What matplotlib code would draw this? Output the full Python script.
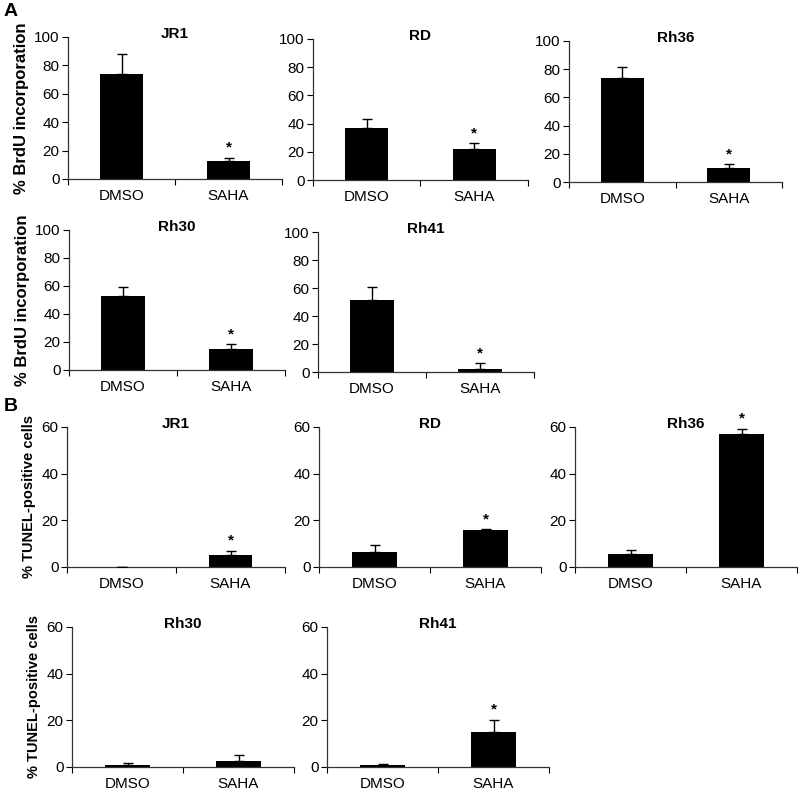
import matplotlib

matplotlib.use("Agg")
import matplotlib.pyplot as plt

plt.rcParams["font.family"] = ["Liberation Sans", "DejaVu Sans"]

# --- data ---------------------------------------------------------------------
groups = ["DMSO", "SAHA"]
cell_lines = ["JR1", "RD", "Rh36", "Rh30", "Rh41"]

brdu_dmso = [74, 37, 73.5, 52.5, 51.5]
brdu_dmso_err = [14, 6.5, 8, 6.5, 9.5]
brdu_saha = [12.5, 22, 10, 15, 2]
brdu_saha_err = [2.5, 4, 2.5, 3.5, 4.5]
brdu_signif = [True, True, True, True, True]

tunel_dmso = [0.2, 6.3, 5.6, 1.0, 1.0]
tunel_dmso_err = [0, 3.1, 1.8, 0.6, 0.4]
tunel_saha = [5, 15.9, 56.9, 2.6, 15.1]
tunel_saha_err = [2, 0.3, 2.4, 2.7, 5.2]
tunel_signif = [True, True, True, False, True]

W, H = 800, 792
fig = plt.figure(figsize=(W / 100, H / 100), dpi=100)

# axes boxes in pixels: (x0, y_top, x1, y_bottom)
brdu_boxes = [(68, 37, 282, 179), (313, 39, 528, 180), (569, 41, 782, 182),
              (69, 230, 285, 370), (318, 232, 534, 372)]
tunel_boxes = [(67, 427, 285, 567), (319, 427, 541, 567), (575, 427, 797, 567),
               (72, 627, 294, 767), (327, 627, 549, 767)]


def add_ax(box):
    x0, yt, x1, yb = box
    return fig.add_axes([x0 / W, 1 - yb / H, (x1 - x0) / W, (yb - yt) / H])


def panel(box, title, vals, errs, signif, ymax, ystep, ylabel=None, ylabel_size=10.5):
    ax = add_ax(box)
    xs = [0.5, 1.5]
    ax.bar(xs, vals, width=0.4, color="black", zorder=2)
    ax.errorbar(xs, vals, yerr=[[0, 0], errs], fmt="none", ecolor="black",
                elinewidth=1, capsize=3.5, capthick=1, zorder=3)
    if signif:
        ax.annotate("*", (xs[1], vals[1] + errs[1]), xytext=(0, 2),
                    textcoords="offset points", ha="center", va="bottom",
                    fontsize=11, fontweight="bold")
    ax.set_xlim(0, 2)
    ax.set_ylim(0, ymax)
    ax.set_yticks(range(0, ymax + 1, ystep))
    ax.set_xticks([0, 1, 2])
    ax.set_xticklabels([])
    ax.set_xticks(xs, minor=True)
    ax.set_xticklabels(groups, minor=True)
    ax.tick_params(axis="x", which="minor", length=0, pad=7, labelsize=11)
    ax.tick_params(axis="x", which="major", length=4, direction="out")
    ax.tick_params(axis="y", length=4, direction="out", labelsize=11, pad=2)
    for s in ("top", "right"):
        ax.spines[s].set_visible(False)
    for s in ("left", "bottom"):
        ax.spines[s].set_linewidth(0.9)
        ax.spines[s].set_color("#333333")
    ax.text(0.5, 1.02, title, transform=ax.transAxes, ha="center", va="center",
            fontsize=11, fontweight="bold")
    if ylabel:
        ax.set_ylabel(ylabel, fontsize=ylabel_size, fontweight="bold", labelpad=4)
    return ax


for i, name in enumerate(cell_lines):
    panel(brdu_boxes[i], name, [brdu_dmso[i], brdu_saha[i]],
          [brdu_dmso_err[i], brdu_saha_err[i]], brdu_signif[i], 100, 20,
          "% BrdU incorporation" if i in (0, 3) else None, 12)
    panel(tunel_boxes[i], name, [tunel_dmso[i], tunel_saha[i]],
          [tunel_dmso_err[i], tunel_saha_err[i]], tunel_signif[i], 60, 20,
          "% TUNEL-positive cells" if i in (0, 3) else None, 10.5)

fig.text(4 / W, 1 - 12 / H, "A", fontsize=14, fontweight="bold", va="center")
fig.text(4 / W, 1 - 407 / H, "B", fontsize=14, fontweight="bold", va="center")

fig.savefig("out.png", dpi=100)
